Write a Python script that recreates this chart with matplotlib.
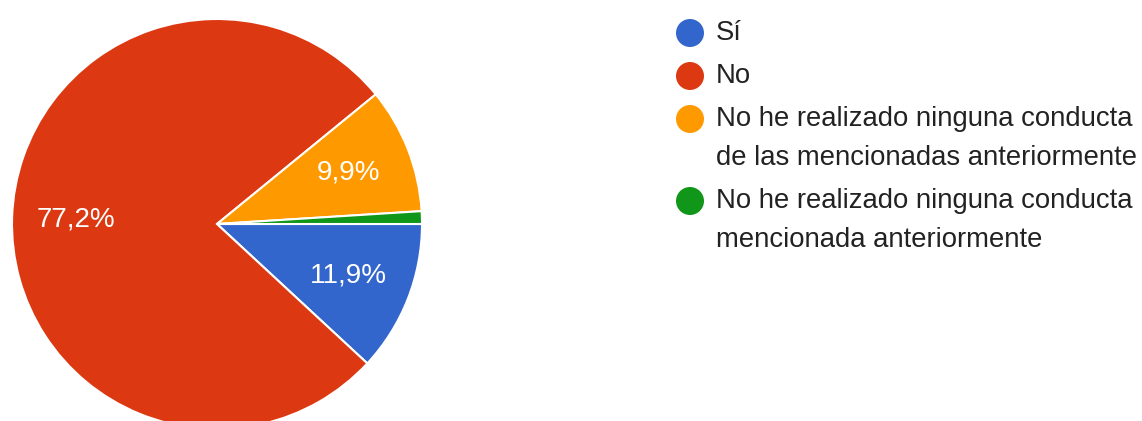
import matplotlib
matplotlib.use("Agg")
import matplotlib.pyplot as plt
from matplotlib.patches import Circle

labels = ["Sí", "No",
          "No he realizado ninguna conducta\nde las mencionadas anteriormente",
          "No he realizado ninguna conducta\nmencionada anteriormente"]
values = [11.9, 77.2, 9.9, 1.0]
colors = ["#3366CC", "#DC3912", "#FF9900", "#109618"]

FONT = "Liberation Sans"
W, H = 1142, 421
fig = plt.figure(figsize=(W / 100, H / 100), dpi=100)
ax = fig.add_axes([0, 0, 1, 1])

def fmt(p):
    return (f"{p:.1f}%".replace(".", ",")) if p >= 5 else ""

wedges, texts, autotexts = ax.pie(
    values, colors=colors, startangle=0, counterclock=False,
    center=(217, H - 224), radius=205, frame=True,
    autopct=fmt, pctdistance=0.69,
    wedgeprops=dict(edgecolor="white", linewidth=1.5),
    textprops=dict(color="white", fontsize=20, family=FONT))
ax.set_xlim(0, W)
ax.set_ylim(0, H)
ax.set_aspect("equal")
ax.axis("off")

# legend
y = 33
for lab, col in zip(labels, colors):
    ax.add_patch(Circle((690, H - y), 14, color=col, lw=0))
    for line in lab.split("\n"):
        ax.text(716, H - y, line, fontsize=19.8, family=FONT, color="#222222",
                va="center", ha="left")
        y += 39
    y += 4

fig.savefig("out.png", dpi=100)
